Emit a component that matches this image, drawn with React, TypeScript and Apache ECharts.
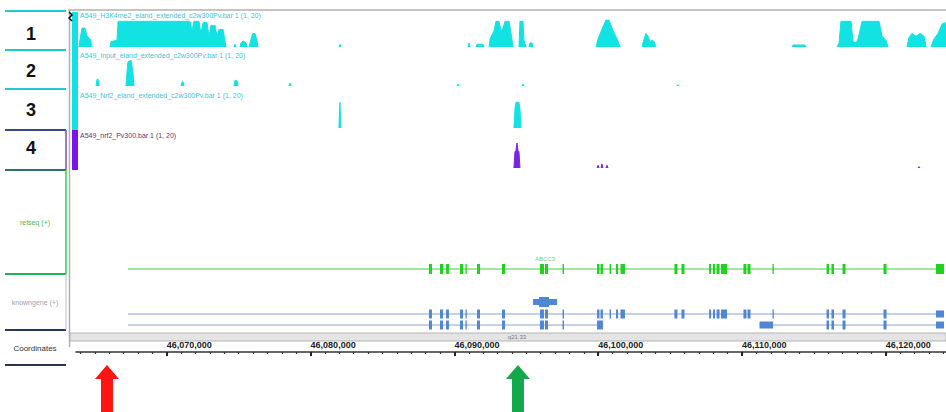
import React, { useEffect, useRef } from 'react';
import * as echarts from 'echarts';

// genomic window in kb (offset from 46,000,000 bp)
const X_MIN = 63.686;
const X_MAX = 124.186;

const coordLabelTicks = [70, 80, 90, 100, 110, 120];
const bandName = 'q21.33';

const trackNames = [
  'A549_H3K4me2_eland_extended_c2w300Pv.bar 1 (1, 20)',
  'A549_Input_eland_extended_c2w300Pv.bar 1 (1, 20)',
  'A549_Nrf2_eland_extended_c2w300Pv.bar 1 (1, 20)',
  'A549_nrf2_Pv300.bar 1 (1, 20)',
];

// [position kb, signal 0..20]
const h3k4me2 = [
  [63.89, 0], [63.96, 5], [64.10, 14], [64.31, 14], [64.45, 8], [64.66, 6], [64.80, 0],
  [66.05, 0], [66.12, 4], [66.54, 5], [66.61, 19], [71.61, 19], [71.75, 12], [71.89, 19], [72.24, 19],
  [72.38, 10], [72.52, 18], [72.80, 18], [72.93, 8], [73.07, 16], [73.35, 16], [73.49, 8], [73.63, 13],
  [73.91, 13], [74.12, 0],
  [74.67, 0], [74.74, 2], [74.81, 0],
  [75.09, 0], [75.16, 3], [75.30, 4.5], [75.51, 3], [75.58, 0],
  [75.72, 0], [75.86, 6], [75.99, 10], [76.13, 10], [76.27, 5], [76.34, 0],
  [81.97, 0], [82.04, 2], [82.11, 0],
  [90.95, 0], [91.02, 3], [91.08, 0], [91.50, 0], [91.57, 2], [91.99, 2], [92.06, 0],
  [92.41, 0], [92.48, 6], [92.75, 12], [92.89, 19], [93.10, 19], [93.24, 12], [93.38, 14], [93.52, 19],
  [93.80, 19], [93.94, 10], [94.08, 0],
  [94.49, 0], [94.56, 19], [94.77, 19], [94.84, 5], [94.98, 0], [95.19, 0], [95.26, 3], [95.40, 3], [95.47, 0],
  [99.85, 0], [99.99, 6], [100.33, 15], [100.54, 20], [100.75, 20], [101.03, 12], [101.31, 6], [101.52, 0],
  [103.05, 0], [103.19, 6], [103.32, 10], [103.46, 8], [103.60, 4], [103.74, 5], [103.88, 4], [104.02, 0],
  [113.48, 0], [113.55, 1.5], [114.38, 1.5], [114.45, 0],
  [116.61, 0], [116.75, 3], [116.88, 19], [117.58, 19], [117.72, 4], [117.93, 3], [118.07, 6], [118.35, 19],
  [119.53, 19], [119.74, 8], [120.01, 5], [120.15, 0],
  [121.47, 0], [121.61, 7], [121.82, 10], [122.10, 8], [122.38, 10], [122.66, 8], [122.80, 0],
  [123.14, 0], [123.35, 6], [123.63, 10], [123.91, 17], [124.19, 18],
];

const inputSignal = [
  [65.08, 0], [65.15, 5], [65.22, 5], [65.29, 0],
  [67.16, 0], [67.23, 10], [67.30, 18], [67.51, 19], [67.65, 10], [67.72, 0],
  [70.99, 0], [71.06, 3], [71.13, 3], [71.20, 0],
  [74.67, 0], [74.74, 4], [74.88, 4], [74.95, 0],
  [78.50, 0], [78.57, 2], [78.64, 0],
  [90.18, 0], [90.25, 1.5], [90.32, 0],
  [94.70, 0], [94.77, 1.5], [94.84, 0],
  [105.48, 0], [105.55, 1], [105.62, 0],
];

const nrf2Signal = [
  [81.97, 0], [82.04, 19], [82.11, 0],
  [94.14, 0], [94.21, 14], [94.28, 19], [94.49, 19], [94.56, 14], [94.63, 0],
];

const nrf2PeakSignal = [
  [94.14, 0], [94.21, 12], [94.28, 13], [94.35, 18.5], [94.42, 13], [94.49, 12], [94.56, 0],
  [99.92, 0], [99.99, 2], [100.06, 0], [100.20, 0], [100.26, 3], [100.33, 0], [100.54, 0], [100.61, 2], [100.68, 0],
  [122.24, 0], [122.31, 1], [122.38, 0],
];

// gene models [start kb, end kb]
const refseqSpans = [[67.30, 123.98]];
const refseqExons = [
  [88.23, 88.44], [89.00, 89.21], [89.42, 89.62], [90.39, 90.60], [90.77, 90.84], [91.57, 91.78],
  [93.31, 93.52], [95.95, 96.23], [96.30, 96.51], [97.52, 97.62], [99.92, 100.09], [100.16, 100.33],
  [100.79, 100.89], [101.24, 101.38], [101.55, 101.86], [105.30, 105.51], [105.79, 106.00],
  [107.71, 107.85], [107.98, 108.12], [108.23, 108.44], [108.54, 108.96], [110.10, 110.31],
  [110.38, 110.59], [112.12, 112.19], [115.88, 116.05], [116.22, 116.40], [116.99, 117.20],
  [119.84, 120.05], [123.49, 124.05],
];
const geneLabels = [{ name: 'ABCC3', pos: 96.3 }];

const knownTopSpans = [[67.30, 123.98]];
const knownTopExons = [
  [88.23, 88.44], [89.00, 89.21], [89.42, 89.62], [90.39, 90.60], [90.77, 90.84], [91.57, 91.78],
  [93.31, 93.52], [95.95, 96.23], [96.30, 96.51], [97.52, 97.62], [99.92, 100.09], [100.16, 100.33],
  [100.79, 100.89], [101.24, 101.38], [101.55, 101.86], [105.30, 105.51], [105.79, 106.00],
  [107.71, 107.85], [107.98, 108.12], [108.23, 108.44], [108.54, 108.96], [110.10, 110.31],
  [110.38, 110.59], [112.12, 112.19], [115.88, 116.05], [116.22, 116.40], [116.99, 117.20],
  [119.84, 120.05],
];
const knownTopUtr = [[123.49, 124.05]];

const knownBottomSpans = [[67.30, 100.26], [111.22, 123.98]];
const knownBottomExons = [
  [88.23, 88.44], [89.00, 89.21], [89.42, 89.62], [90.39, 90.60], [90.77, 90.84], [91.57, 91.78],
  [93.31, 93.52], [95.95, 96.23], [96.30, 96.51], [97.52, 97.62], [99.92, 100.33],
  [115.88, 116.05], [116.22, 116.40], [116.99, 117.20], [119.84, 120.05],
];
const knownBottomUtr = [[111.22, 112.16], [123.49, 124.05]];

const knownExtraUtr = [[95.47, 97.14]];
const knownExtraExon = [[95.88, 96.58]];

const arrowMarks = [
  { pos: 65.84, color: '#ff1414' },
  { pos: 94.42, color: '#14a84c' },
];

const FONT = 'Liberation Sans, Arial, sans-serif';

// break the signal line between consecutive zero points so no baseline is drawn
function withGaps(data: number[][]): (number[] | null)[] {
  const out: (number[] | null)[] = [];
  data.forEach((p, i) => {
    if (i > 0 && p[1] === 0 && data[i - 1][1] === 0) out.push(null);
    out.push(p);
  });
  return out;
}

export default function App() {
  const ref = useRef<HTMLDivElement>(null);

  useEffect(() => {
    if (!ref.current) return;
    const chart = echarts.init(ref.current, undefined, { renderer: 'svg' });

    const trackTops = [20, 59, 101, 141];
    const trackH = 27;
    const grids: any[] = trackTops.map((t) => ({ left: 76, width: 870, top: t, height: trackH }));
    grids.push({ left: 76, width: 870, top: 250, height: 85 }); // genes (index 4)
    grids.push({ left: 76, width: 870, top: 335, height: 17 }); // coordinates (index 5)

    const minorTicks: number[] = [];
    for (let k = Math.ceil(X_MIN); k <= Math.floor(X_MAX); k++) minorTicks.push(k);

    const xAxes: any[] = grids.map((_, i) => ({
      type: 'value', gridIndex: i, min: X_MIN, max: X_MAX, show: false,
    }));
    xAxes[5] = {
      type: 'value', gridIndex: 5, min: X_MIN, max: X_MAX, position: 'bottom',
      axisLine: { show: true, lineStyle: { color: '#333', width: 1.5 } },
      axisTick: { show: true, customValues: minorTicks, length: 2, lineStyle: { color: '#333', width: 1.2 } },
      axisLabel: {
        show: true, inside: true, customValues: coordLabelTicks, margin: 3, align: 'left',
        fontSize: 9, fontWeight: 'bold', color: '#222', fontFamily: FONT,
        formatter: (v: number) => (46000000 + Math.round(v * 1000)).toLocaleString('en-US'),
      },
      splitLine: { show: false },
    };
    xAxes.push({
      type: 'value', gridIndex: 5, min: X_MIN, max: X_MAX, position: 'bottom',
      axisLine: { show: false },
      axisTick: { show: true, customValues: coordLabelTicks, length: 4, inside: false, lineStyle: { color: '#222', width: 2 } },
      axisLabel: { show: false },
      splitLine: { show: false },
    });

    const yAxes: any[] = grids.map((_, i) => ({
      type: 'value', gridIndex: i, min: 0, max: 20, show: false,
    }));
    yAxes[4] = { type: 'value', gridIndex: 4, min: 0, max: 85, inverse: true, show: false };
    yAxes[5] = { type: 'value', gridIndex: 5, min: 0, max: 1, show: false };

    const coverage = (data: number[][], idx: number, color: string) => ({
      type: 'line', xAxisIndex: idx, yAxisIndex: idx, data: withGaps(data), symbol: 'none', silent: true,
      connectNulls: false,
      lineStyle: { color, width: 1 },
      areaStyle: { color, opacity: 1 },
    });

    const rectSeries = (data: number[][], row: number, h: number, color: string) => ({
      type: 'custom', xAxisIndex: 4, yAxisIndex: 4, silent: true,
      data: data.map((d) => [d[0], d[1], row]),
      encode: { x: [0, 1], y: 2 },
      renderItem: (_p: any, api: any) => {
        const a = api.coord([api.value(0), api.value(2)]);
        const b = api.coord([api.value(1), api.value(2)]);
        return {
          type: 'rect',
          shape: { x: a[0], y: a[1] - h / 2, width: Math.max(b[0] - a[0], 1.3), height: h },
          style: { fill: color },
        };
      },
    });

    const spanSeries = (data: number[][], row: number, color: string) => ({
      type: 'custom', xAxisIndex: 4, yAxisIndex: 4, silent: true,
      data: data.map((d) => [d[0], d[1], row]),
      encode: { x: [0, 1], y: 2 },
      renderItem: (_p: any, api: any) => {
        const a = api.coord([api.value(0), api.value(2)]);
        const b = api.coord([api.value(1), api.value(2)]);
        return {
          type: 'line',
          shape: { x1: a[0], y1: a[1], x2: b[0], y2: b[1] },
          style: { stroke: color, lineWidth: 1 },
        };
      },
    });

    const GREEN = '#1ed21e';
    const BLUE = '#4f86d6';
    const KG_LINE = '#8fa2c6';

    const series: any[] = [
      coverage(h3k4me2, 0, '#12e2e2'),
      coverage(inputSignal, 1, '#12e2e2'),
      coverage(nrf2Signal, 2, '#12e2e2'),
      coverage(nrf2PeakSignal, 3, '#7a26e0'),
      spanSeries(refseqSpans, 19, '#44cc44'),
      rectSeries(refseqExons, 19, 10, GREEN),
      spanSeries(knownTopSpans, 64, KG_LINE),
      rectSeries(knownTopExons, 64, 9, BLUE),
      rectSeries(knownTopUtr, 64, 7, BLUE),
      spanSeries(knownBottomSpans, 75, KG_LINE),
      rectSeries(knownBottomExons, 75, 9, BLUE),
      rectSeries(knownBottomUtr, 75, 7, BLUE),
      rectSeries(knownExtraUtr, 52, 6, BLUE),
      rectSeries(knownExtraExon, 52, 10, BLUE),
      {
        type: 'scatter', xAxisIndex: 4, yAxisIndex: 4, silent: true, symbolSize: 0,
        data: geneLabels.map((g) => ({ value: [g.pos, 9], name: g.name })),
        label: { show: true, formatter: '{b}', fontSize: 6, color: '#44bb44', fontFamily: FONT, position: 'inside' },
      },
    ];

    const hline = (x1: number, x2: number, y: number, stroke: string, w = 1.5) => ({
      type: 'line', shape: { x1, y1: y, x2, y2: y }, style: { stroke, lineWidth: w }, silent: true,
    });
    const vline = (x: number, y1: number, y2: number, stroke: string, w = 1.5) => ({
      type: 'line', shape: { x1: x, y1, x2: x, y2 }, style: { stroke, lineWidth: w }, silent: true,
    });
    const txt = (x: number, y: number, text: string, size: number, fill: string, weight = 'normal', align = 'center') => ({
      type: 'text', x, y, silent: true,
      style: { text, fontSize: size, fill, fontWeight: weight, fontFamily: FONT, align, verticalAlign: 'middle' },
    });

    const labelY = [15, 55, 95, 135];
    const labelColors = ['#3cc6d2', '#3cc6d2', '#3cc6d2', '#5a3a78'];

    const graphic: any[] = [
      // left label panel
      hline(5, 66, 11, '#22c8cc', 2),
      hline(5, 66, 50, '#22c8cc', 2),
      hline(5, 66, 89, '#22c8cc', 2),
      hline(5, 66, 130, '#354a86', 2),
      hline(5, 66, 170, '#2a7070', 2),
      hline(5, 66, 274, '#22b05a', 2),
      hline(5, 66, 330, '#2a3550', 2),
      hline(5, 66, 365, '#2a3550', 2),
      vline(66, 130, 170, '#7a50a8', 1.5),
      vline(66, 170, 274, '#33cc66', 1.5),
      vline(66, 274, 330, '#b8bcc8', 1),
      txt(31, 34, '1', 18, '#111', 'bold'),
      txt(31, 71, '2', 18, '#111', 'bold'),
      txt(31, 110, '3', 18, '#111', 'bold'),
      txt(31, 148, '4', 18, '#111', 'bold'),
      txt(35, 222, 'refseq (+)', 7, '#44b85a'),
      txt(35, 302, 'knowngene (+)', 7, '#9aa0b0'),
      txt(35, 348, 'Coordinates', 8, '#333'),
      // main panel frame
      hline(68, 946, 10, '#c4c4c0', 2),
      vline(69.5, 10, 347, '#b0b0b0', 1.5),
      { type: 'rect', shape: { x: 72, y: 12, width: 6, height: 118 }, style: { fill: '#12e2e2' }, silent: true },
      { type: 'rect', shape: { x: 72, y: 130, width: 6, height: 40 }, style: { fill: '#7a16e8' }, silent: true },
      { type: 'polyline', shape: { points: [[69, 12], [72, 15], [69, 18], [72, 21]] }, style: { stroke: '#111', lineWidth: 1.5, fill: 'none' }, silent: true },
      // chromosome band strip
      { type: 'rect', shape: { x: 70, y: 333, width: 876, height: 8 }, style: { fill: '#e4e4e4', stroke: '#b4b4b4', lineWidth: 1 }, silent: true },
      txt(517, 337, bandName, 6, '#777'),
      // track names
      ...trackNames.map((n, i) => txt(80, labelY[i], n, 7, labelColors[i], 'normal', 'left')),
    ];

    chart.setOption({
      animation: false,
      backgroundColor: '#ffffff',
      grid: grids,
      xAxis: xAxes,
      yAxis: yAxes,
      series,
      graphic,
    });

    // arrows pointing at genomic positions
    const arrows = arrowMarks.map((m, i) => {
      const cx = chart.convertToPixel({ xAxisIndex: 5 }, m.pos) as number;
      return {
        id: 'arrow' + i, type: 'polygon', silent: true,
        shape: {
          points: [
            [cx, 365], [cx + 12, 379], [cx + 6, 379], [cx + 6, 412],
            [cx - 6, 412], [cx - 6, 379], [cx - 12, 379],
          ],
        },
        style: { fill: m.color },
      };
    });
    chart.setOption({ graphic: [...graphic, ...arrows] });

    return () => chart.dispose();
  }, []);

  return (
    <div
      ref={ref}
      style={{ position: 'fixed', left: 0, top: 0, width: 946, height: 412, background: '#fff' }}
    />
  );
}
